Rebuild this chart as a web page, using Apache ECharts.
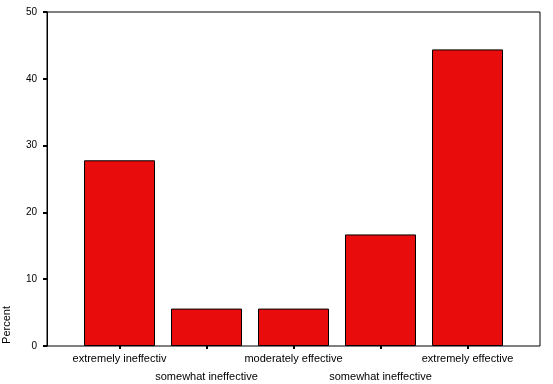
<!DOCTYPE html>
<html><head><meta charset="utf-8">
<script src="https://cdn.jsdelivr.net/npm/echarts@6/dist/echarts.min.js"></script>
<style>html,body{margin:0;padding:0;background:#fff}#c{width:553px;height:384px}</style>
</head><body><div id="c"></div>
<script>
const categories = ['extremely ineffectiv', 'somewhat ineffective', 'moderately effective', 'somewhat ineffective', 'extremely effective'];
const percentValues = [27.8, 5.6, 5.6, 16.7, 44.4];
const yTicks = [0, 10, 20, 30, 40, 50];

const chart = echarts.init(document.getElementById('c'), null, {renderer: 'canvas'});
const font = 'Arial, "Liberation Sans", sans-serif';
chart.setOption({
  backgroundColor: '#fff',
  animation: false,
  grid: [
    {left: 47, right: 13, top: 12, bottom: 38, show: true, borderColor: '#000', borderWidth: 1, backgroundColor: 'transparent', outerBoundsMode: 'none', containLabel: false},
    {left: 76, right: 42, top: 12, bottom: 38, outerBoundsMode: 'none', containLabel: false}
  ],
  xAxis: [
    {gridIndex: 0, type: 'value', min: 0, max: 1, show: false},
    {gridIndex: 1, type: 'category', data: categories,
      axisLine: {show: false},
      axisTick: {show: true, alignWithLabel: true, length: 3, lineStyle: {color: '#000', width: 2}},
      axisLabel: {interval: 0, margin: 4, color: '#000', fontFamily: font, fontSize: 11, lineHeight: 18,
        formatter: (v, i) => (i % 2 ? '\n' + v : v)}}
  ],
  yAxis: [
    {gridIndex: 0, type: 'value', min: yTicks[0], max: yTicks[yTicks.length - 1], interval: 10,
      axisLine: {show: true, lineStyle: {color: '#000', width: 1}},
      axisTick: {show: true, length: 4, lineStyle: {color: '#000', width: 2}},
      axisLabel: {margin: 10, color: '#000', fontFamily: font, fontSize: 10},
      splitLine: {show: false}},
    {gridIndex: 1, type: 'value', min: 0, max: 50, show: false}
  ],
  graphic: [{
    type: 'text', left: 1, top: 306, rotation: Math.PI / 2,
    style: {text: 'Percent', fill: '#000', font: '11px ' + font}
  }],
  series: [{
    type: 'bar', xAxisIndex: 1, yAxisIndex: 1, data: percentValues, barWidth: 71,
    itemStyle: {color: '#E80C0C', borderColor: '#000', borderWidth: 1}
  }]
});
</script></body></html>
